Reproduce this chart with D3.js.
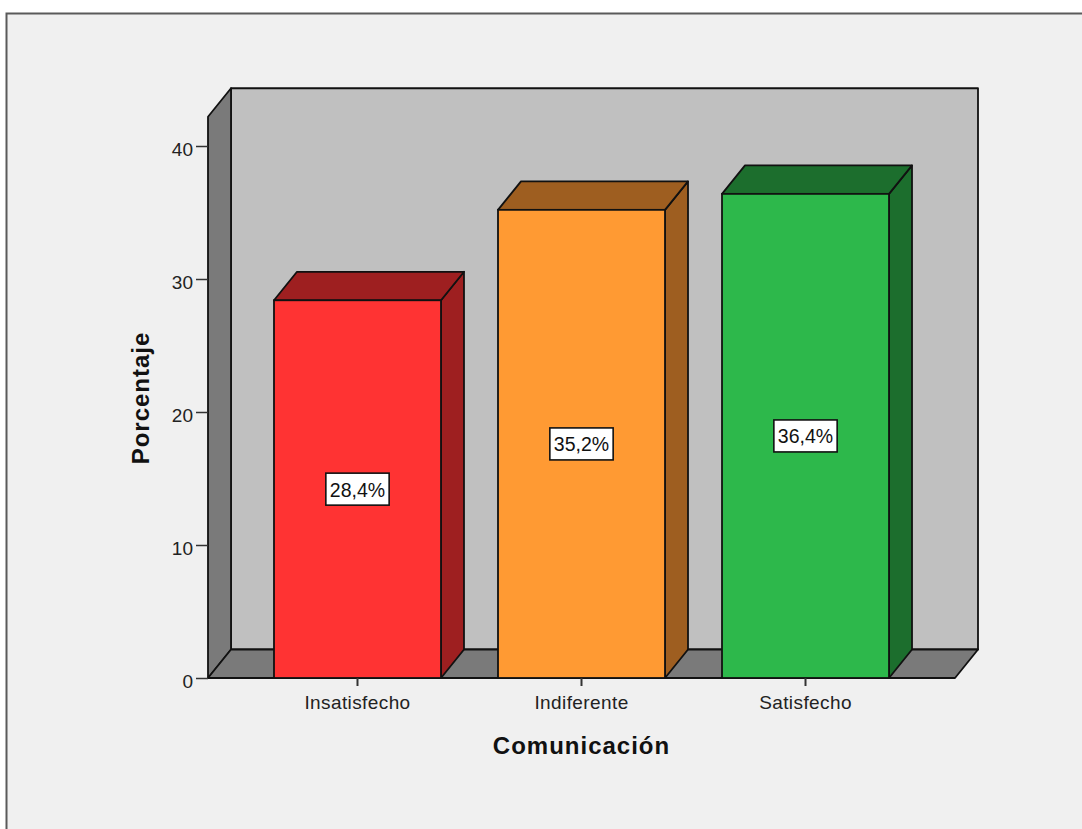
<!DOCTYPE html>
<html><head><meta charset="utf-8">
<script src="https://cdn.jsdelivr.net/npm/d3@7"></script>
<style>html,body{margin:0;padding:0;background:#fff;}svg{display:block;}</style>
</head><body>
<script>
const categories = ["Insatisfecho", "Indiferente", "Satisfecho"];
const values = [28.4, 35.2, 36.4];
const valueLabels = ["28,4%", "35,2%", "36,4%"];
const frontColors = ["#ff3333", "#ff9a33", "#2db84b"];
const darkColors = ["#9e1f20", "#9e5e20", "#1c6e2d"];
const yTicks = [0, 10, 20, 30, 40];
const yTitle = "Porcentaje";
const xTitle = "Comunicación";

const W = 1082, H = 829;
const svg = d3.select("body").append("svg").attr("width", W).attr("height", H);
const font = "'Liberation Sans', Arial, sans-serif";

// outer frame
svg.append("rect").attr("x", 6.5).attr("y", 13.5).attr("width", W + 20).attr("height", H + 20)
  .attr("fill", "#f0f0f0").attr("stroke", "#5a5a5a").attr("stroke-width", 2);

const x0 = 208, x1 = 955, yBase = 678;
const dx = 23, dy = -28.5;
const y = d3.scaleLinear().domain([0, 40]).range([yBase, 146]);
const wallTop = y(42.2);
const x = d3.scaleBand().domain(categories).range([x0, x1]).paddingInner(0.2545).paddingOuter(0.2946);

const g = svg.append("g");
const sw = 1.8;
// back wall
g.append("polygon").attr("points", [[x0+dx, wallTop+dy],[x1+dx, wallTop+dy],[x1+dx, yBase+dy],[x0+dx, yBase+dy]].join(" "))
  .attr("fill", "#c0c0c0").attr("stroke", "#111").attr("stroke-width", sw).attr("stroke-linejoin", "round");
// left wall
g.append("polygon").attr("points", [[x0, yBase],[x0, wallTop],[x0+dx, wallTop+dy],[x0+dx, yBase+dy]].join(" "))
  .attr("fill", "#7a7a7a").attr("stroke", "#111").attr("stroke-width", sw).attr("stroke-linejoin", "round");
// floor
g.append("polygon").attr("points", [[x0, yBase],[x0+dx, yBase+dy],[x1+dx, yBase+dy],[x1, yBase]].join(" "))
  .attr("fill", "#7a7a7a").attr("stroke", "#111").attr("stroke-width", sw).attr("stroke-linejoin", "round");

// bars
const bars = g.selectAll("g.bar").data(categories).join("g").attr("class", "bar");
bars.each(function(c, i) {
  const b = d3.select(this);
  const bx0 = x(c), bx1 = x(c) + x.bandwidth(), yt = y(values[i]);
  b.append("polygon").attr("points", [[bx1, yBase],[bx1, yt],[bx1+dx, yt+dy],[bx1+dx, yBase+dy]].join(" "))
    .attr("fill", darkColors[i]).attr("stroke", "#111").attr("stroke-width", sw).attr("stroke-linejoin", "round");
  b.append("polygon").attr("points", [[bx0, yt],[bx0+dx, yt+dy],[bx1+dx, yt+dy],[bx1, yt]].join(" "))
    .attr("fill", darkColors[i]).attr("stroke", "#111").attr("stroke-width", sw).attr("stroke-linejoin", "round");
  b.append("rect").attr("x", bx0).attr("y", yt).attr("width", bx1 - bx0).attr("height", yBase - yt)
    .attr("fill", frontColors[i]).attr("stroke", "#111").attr("stroke-width", sw);
  // value label
  const cx = bx0 + x.bandwidth() / 2, cy = y(values[i] / 2);
  const t = b.append("text").attr("x", cx).attr("y", cy + 7.5).attr("text-anchor", "middle")
    .attr("font-family", font).attr("font-size", 19.5).attr("fill", "#111").text(valueLabels[i]);
  const bb = t.node().getBBox();
  b.insert("rect", "text").attr("x", cx - bb.width/2 - 4).attr("y", cy - 16).attr("width", bb.width + 8).attr("height", 32)
    .attr("fill", "#fff").attr("stroke", "#111").attr("stroke-width", 1.6);
});

// y axis
const yAxis = d3.axisLeft(y).tickValues(yTicks).tickSize(12).tickPadding(3);
const ya = svg.append("g").attr("transform", `translate(${x0},0)`).call(yAxis);
ya.select(".domain").remove();
ya.selectAll(".tick line").attr("stroke", "#333").attr("stroke-width", 1.5);
ya.selectAll(".tick text").attr("font-family", font).attr("font-size", 19).attr("fill", "#222").attr("dy", "0.52em");

// x axis
const xAxis = d3.axisBottom(x).tickSize(8).tickPadding(10);
const xa = svg.append("g").attr("transform", `translate(0,${yBase})`).call(xAxis);
xa.select(".domain").remove();
xa.selectAll(".tick line").attr("stroke", "#333").attr("stroke-width", 2);
xa.selectAll(".tick text").attr("font-family", font).attr("font-size", 19).attr("fill", "#222")
  .attr("letter-spacing", 0.4);

// titles
svg.append("text").attr("transform", `translate(149,398) rotate(-90)`).attr("text-anchor", "middle")
  .attr("font-family", font).attr("font-weight", "bold").attr("font-size", 24).attr("letter-spacing", 1)
  .attr("fill", "#111").text(yTitle);
svg.append("text").attr("x", (x0 + x1) / 2).attr("y", 754).attr("text-anchor", "middle")
  .attr("font-family", font).attr("font-weight", "bold").attr("font-size", 24).attr("letter-spacing", 1)
  .attr("fill", "#111").text(xTitle);
</script>
</body></html>
